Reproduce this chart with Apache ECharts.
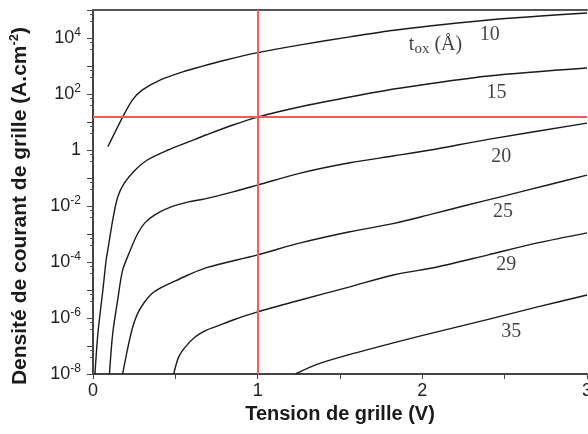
<!DOCTYPE html>
<html>
<head>
<meta charset="utf-8">
<script src="https://cdn.jsdelivr.net/npm/echarts@6/dist/echarts.min.js"></script>
<style>html,body{margin:0;padding:0;background:#fff;}#c{width:588px;height:434px;}</style>
</head>
<body>
<div id="c"></div>
<script>
// Gate voltage (V) and current density (A/cm2) for each oxide thickness
var x10 = [0.09, 0.18, 0.24, 0.30, 0.41, 0.55, 0.65, 0.8, 1.0, 1.26, 1.56, 1.83, 2.4, 3.0];
var y10 = [1.3, 15, 62, 140, 320, 630, 930, 1600, 3000, 5700, 11000, 19000, 44000, 78000];

var x15 = [0.012, 0.03, 0.06, 0.08, 0.09, 0.12, 0.15, 0.19, 0.255, 0.33, 0.455, 0.58, 0.69, 0.85, 1.0, 1.26, 1.56, 1.86, 2.4, 3.0];
var y15 = [1e-8, 2.9e-7, 1e-5, 1.2e-4, 2.7e-4, 3.2e-3, 2.1e-2, 6.6e-2, 0.19, 0.44, 1, 1.95, 3.5, 7.8, 15, 35, 78, 160, 440, 850];

var x20 = [0.1, 0.12, 0.15, 0.18, 0.225, 0.27, 0.315, 0.38, 0.47, 0.58, 0.68, 0.85, 1.0, 1.26, 1.56, 1.83, 2.05, 2.4, 3.0];
var y20 = [1e-8, 2.9e-7, 4.4e-6, 5.1e-5, 2.5e-4, 1e-3, 2.5e-3, 5e-3, 9.1e-3, 1.4e-2, 1.8e-2, 3.2e-2, 5.6e-2, 0.15, 0.35, 0.62, 1.0, 2.4, 9.1];

var x25 = [0.18, 0.21, 0.24, 0.27, 0.31, 0.36, 0.42, 0.5, 0.58, 0.69, 1.0, 1.26, 1.56, 1.83, 2.05, 2.25, 2.5, 2.75, 3.0];
var y25 = [1e-8, 7.9e-8, 4.5e-7, 1.4e-6, 3.5e-6, 7.6e-6, 1.26e-5, 2.1e-5, 3.5e-5, 6.3e-5, 1.8e-4, 4.8e-4, 1.2e-3, 2.4e-3, 5e-3, 1e-2, 2.3e-2, 5.4e-2, 0.126];

var x29 = [0.49, 0.52, 0.56, 0.62, 0.69, 0.75, 0.85, 1.0, 1.26, 1.56, 1.83, 2.09, 2.4, 2.7, 3.0];
var y29 = [1e-8, 4e-8, 9.1e-8, 2.1e-7, 3.7e-7, 5e-7, 8.5e-7, 1.66e-6, 4.4e-6, 1.3e-5, 3.5e-5, 6.6e-5, 1.8e-4, 4.8e-4, 1.1e-3];

var x35 = [1.23, 1.36, 1.56, 1.83, 2.09, 2.4, 2.7, 3.0];
var y35 = [1e-8, 2.2e-8, 5e-8, 1.32e-7, 3.2e-7, 8.9e-7, 2.5e-6, 6.6e-6];

// Curve annotations (thickness in Angstrom)
var labelTexts = ['10', 't{sub|ox} (Å)', '15', '20', '25', '29', '35'];
var labelX = [2.41, 2.08, 2.45, 2.48, 2.49, 2.51, 2.54];
var labelY = [1.3e4, 5.6e3, 110, 0.56, 6.2e-3, 7.8e-5, 3.2e-7];

// Reference lines
var refX = 1;
var refY = 15;

// Axis tick settings
var xMin = 0, xMax = 3, xStep = 0.5;
var yMin = 1e-8, yMax = 1e5;

function pairs(xs, ys) {
  var out = [];
  for (var i = 0; i < xs.length; i++) out.push([xs[i], ys[i]]);
  return out;
}

var curves = [[x10, y10], [x15, y15], [x20, y20], [x25, y25], [x29, y29], [x35, y35]];
var series = curves.map(function (c) {
  return {
    type: 'line',
    data: pairs(c[0], c[1]),
    showSymbol: false,
    smooth: 0.3,
    silent: true,
    lineStyle: { color: '#1a1a1a', width: 1.4 },
    z: 3
  };
});

series.push({
  type: 'line',
  data: [],
  silent: true,
  markLine: {
    silent: true,
    symbol: 'none',
    label: { show: false },
    lineStyle: { color: '#ff5858', width: 2, type: 'solid' },
    data: [{ xAxis: refX }, { yAxis: refY }]
  },
  z: 2
});

var labData = [];
for (var i = 0; i < labelTexts.length; i++) labData.push([labelX[i], labelY[i], labelTexts[i]]);
series.push({
  type: 'scatter',
  data: labData,
  symbolSize: 0,
  silent: true,
  label: {
    show: true,
    position: 'inside',
    formatter: function (p) { return p.data[2]; },
    fontFamily: 'Liberation Serif',
    fontSize: 20,
    color: '#111',
    rich: {
      sub: { fontFamily: 'Liberation Serif', fontSize: 15, color: '#111', padding: [9, 0, 0, 0] }
    }
  },
  z: 4
});

var chart = echarts.init(document.getElementById('c'), null, { renderer: 'canvas' });
chart.setOption({
  animation: false,
  backgroundColor: '#fff',
  grid: { left: 93, right: 1, top: 10, bottom: 60, outerBoundsMode: 'none', containLabel: false },
  xAxis: [{
    type: 'value',
    min: xMin, max: xMax, interval: xStep,
    name: 'Tension de grille (V)',
    nameLocation: 'middle',
    nameGap: 23,
    nameTextStyle: { fontFamily: 'Arial, Liberation Sans', fontWeight: 'bold', fontSize: 20, color: '#1a1a1a' },
    axisLine: { lineStyle: { color: '#444', width: 2 } },
    axisTick: { show: true, length: 5, lineStyle: { color: '#444' } },
    axisLabel: {
      fontFamily: 'Arial, Liberation Sans', fontSize: 18, color: '#222', margin: 8,
      formatter: function (v) { return Math.abs(v - Math.round(v)) < 1e-9 ? String(Math.round(v)) : ''; }
    },
    splitLine: { show: false }
  }, {
    type: 'value', position: 'top', min: xMin, max: xMax,
    axisLine: { show: true, lineStyle: { color: '#555', width: 2 } },
    axisTick: { show: false }, axisLabel: { show: false }, splitLine: { show: false }
  }],
  yAxis: {
    type: 'log',
    logBase: 10,
    min: yMin, max: yMax,
    interval: 1,
    splitNumber: 13,
    name: 'Densité de courant de grille (A.cm{sup|-2})',
    nameLocation: 'middle',
    nameGap: 61,
    nameTextStyle: {
      fontFamily: 'Arial, Liberation Sans', fontWeight: 'bold', fontSize: 21, color: '#1a1a1a',
      padding: [0, 28, 0, 0],
      rich: { sup: { fontFamily: 'Arial, Liberation Sans', fontWeight: 'bold', fontSize: 13, color: '#1a1a1a', padding: [0, 0, 11, 0] } }
    },
    axisLine: { show: true, lineStyle: { color: '#444', width: 2 } },
    axisTick: { show: true, length: 6, lineStyle: { color: '#444' } },
    minorTick: { show: true, splitNumber: 3, length: 3, lineStyle: { color: '#555' } },
    axisLabel: {
      fontFamily: 'Arial, Liberation Sans', fontSize: 18, color: '#222', margin: 12,
      formatter: function (v) {
        var e = Math.round(Math.log(v) / Math.LN10);
        if (e % 2 !== 0) return '';
        if (e === 0) return '1';
        return '10{sup|' + e + '}';
      },
      rich: { sup: { fontFamily: 'Arial, Liberation Sans', fontSize: 12, color: '#222', padding: [0, 0, 10, 0] } }
    },
    splitLine: { show: false }
  },
  series: series
});
</script>
</body>
</html>
